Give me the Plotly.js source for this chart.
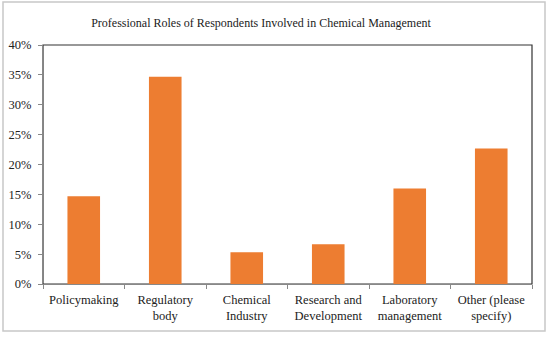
<!DOCTYPE html>
<html><head><meta charset="utf-8">
<script src="https://cdn.plot.ly/plotly-3.0.1.min.js"></script>
<style>html,body{margin:0;padding:0;background:#fff}#chart{width:550px;height:337px}</style>
</head><body><div id="chart"></div>
<script>
const categories = ["Policymaking", "Regulatory<br>body", "Chemical<br>Industry", "Research and<br>Development", "Laboratory<br>management", "Other (please<br>specify)"];
const shares = [0.1467, 0.3467, 0.0533, 0.0667, 0.16, 0.2267];
const yTicks = [0, 0.05, 0.10, 0.15, 0.20, 0.25, 0.30, 0.35, 0.40];
const yTickText = ["0%", "5%", "10%", "15%", "20%", "25%", "30%", "35%", "40%"];

const W = 550, H = 337;
const m = {l: 43, r: 18, t: 45, b: 53};
const pw = W - m.l - m.r, ph = H - m.t - m.b;
const px = v => (v - m.l) / pw;
const py = v => (H - m.b - v) / ph;

const fam = "Liberation Serif, Times New Roman, serif";
const font = {family: fam, color: "#222", size: 12.5};

Plotly.newPlot("chart", [{
  type: "bar", x: categories, y: shares,
  marker: {color: "#ED7D31"}, hoverinfo: "skip"
}], {
  width: W, height: H, margin: m,
  paper_bgcolor: "#fff", plot_bgcolor: "#fff",
  font: font, showlegend: false, bargap: 0.6,
  title: {text: "Professional Roles of Respondents Involved in Chemical Management",
          font: {family: fam, size: 12, color: "#222"},
          x: 261 / W, xref: "container", xanchor: "center", y: 1 - 23/H, yanchor: "middle"},
  xaxis: {showgrid: false, showline: true, linecolor: "#888", linewidth: 1,
          ticks: "outside", ticklen: 4, tickcolor: "#888", tickson: "boundaries",
          ticklabelstandoff: 4,
          tickfont: {family: fam, size: 12.5, color: "#222"}, fixedrange: true},
  yaxis: {range: [0, 0.40], tickvals: yTicks, ticktext: yTickText, showgrid: false,
          zeroline: false, showline: true, linecolor: "#888", linewidth: 1,
          ticks: "outside", ticklen: 4, tickcolor: "#888", ticklabelstandoff: 4,
          tickfont: {family: fam, size: 12.5, color: "#222"}, fixedrange: true},
  shapes: [
    {type: "rect", xref: "paper", yref: "paper", x0: 0, x1: 1, y0: 0, y1: 1,
     line: {color: "#333", width: 1.2}, layer: "below"},
    {type: "rect", xref: "paper", yref: "paper", x0: px(3), x1: px(545), y0: py(331), y1: py(2),
     line: {color: "#c8c8c8", width: 1.5}}
  ]
}, {staticPlot: true});
</script></body></html>
